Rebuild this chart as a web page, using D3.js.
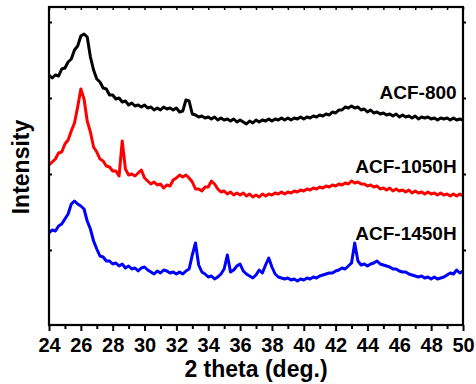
<!DOCTYPE html>
<html>
<head>
<meta charset="utf-8">
<script src="https://cdn.jsdelivr.net/npm/d3@7"></script>
<style>
  body { margin: 0; background: #fff; }
  svg { display: block; font-family: "Liberation Sans", Arial, sans-serif; }
  .tick-label { font-size: 20px; font-weight: bold; fill: #000; }
  .axis-title { font-size: 23px; font-weight: bold; fill: #000; }
  .series-label { font-size: 19px; font-weight: bold; fill: #000; }
</style>
</head>
<body>
<div id="chart"></div>
<script>
// 2 theta grid, 24 to 50 deg every 0.2 deg
const twoTheta = d3.range(0, 131).map(i => +(24 + i * 0.2).toFixed(1));

// intensity (a.u.)
const acf800 = [
  250,247,250,249,256,257,263,266,275,279,
  289,291,288,268,255,246,243,237,236,230,
  230,226,227,223,224,220,222,219,220,218,
  220,217,218,215,217,215,218,216,217,215,
  217,213,214,225,224,211,210,208,209,207,
  208,206,208,205,207,205,206,204,206,203,
  205,203,201,204,202,205,203,205,204,206,
  204,206,205,207,205,207,205,207,206,208,
  206,208,207,209,208,210,209,211,210,213,
  212,215,215,218,217,219,217,218,215,216,
  213,215,212,213,211,212,210,211,209,211,
  208,210,208,209,207,209,206,208,207,208,
  206,207,205,207,206,207,205,207,205,206,
  205
];
const acf1050H = [
  160,163,166,172,173,181,185,194,202,218,
  236,226,204,193,178,173,166,164,159,158,
  154,154,149,184,156,150,151,149,152,155,
  147,144,141,143,140,141,137,140,139,145,
  147,150,148,150,147,143,136,136,134,138,
  138,144,141,136,133,134,131,133,130,132,
  130,132,129,131,128,130,128,131,129,131,
  130,132,131,133,131,133,132,134,133,135,
  134,136,135,137,136,138,137,139,138,140,
  139,141,140,142,141,144,142,143,141,141,
  139,140,138,139,136,137,135,137,134,136,
  134,135,133,135,132,134,132,133,131,133,
  131,132,130,132,130,131,129,131,129,131,
  129
];
const acf1450H = [
  92,95,94,99,101,106,111,121,124,121,
  119,116,104,96,84,76,69,68,64,64,
  61,62,59,61,57,59,56,57,54,57,
  58,55,53,51,54,52,55,54,52,53,
  51,53,51,54,56,70,82,60,53,51,
  48,49,46,48,51,56,70,53,55,59,
  61,54,51,49,47,50,55,52,60,67,
  58,51,48,47,46,47,45,46,44,46,
  45,47,46,48,47,49,50,51,52,52,
  54,55,57,56,59,62,82,64,60,61,
  59,61,62,64,61,60,59,58,56,56,
  54,53,53,51,50,49,48,49,47,48,
  46,48,46,47,48,50,52,51,55,52,
  54
];

const seriesNames = ['ACF-800', 'ACF-1050H', 'ACF-1450H'];
const seriesColors = ['#000000', '#ff0000', '#0000ff'];
const labelLevels = [226, 152, 85];

const xMajorTicks = d3.range(24, 51, 2);
const xMinorTicks = d3.range(25, 50, 2);
const yTicks = [75, 151, 227, 303];

const W = 476, H = 384;
const margin = { top: 7, right: 13, bottom: 59, left: 49 };
const width = W - margin.left - margin.right;
const height = H - margin.top - margin.bottom;

const svg = d3.select('#chart').append('svg')
  .attr('width', W)
  .attr('height', H);

const g = svg.append('g')
  .attr('transform', `translate(${margin.left},${margin.top})`);

const x = d3.scaleLinear().domain([24, 50]).range([0, width]);
const y = d3.scaleLinear().domain([0, 318]).range([height, 0]);

// curves
const allSeries = [acf800, acf1050H, acf1450H];
const line = d3.line()
  .x((d, i) => x(twoTheta[i]))
  .y(d => y(d));

allSeries.forEach((vals, k) => {
  g.append('path')
    .datum(vals)
    .attr('fill', 'none')
    .attr('stroke', seriesColors[k])
    .attr('stroke-width', 3)
    .attr('stroke-linejoin', 'round')
    .attr('d', line);
});

// bottom axis, major + minor ticks
const xAxis = g.append('g')
  .attr('transform', `translate(0,${height})`)
  .call(d3.axisBottom(x).tickValues(xMajorTicks).tickSize(6).tickPadding(7).tickFormat(d3.format('d')));
xAxis.select('.domain').remove();
xAxis.selectAll('line').attr('stroke-width', 2);
xAxis.selectAll('text').attr('class', 'tick-label');

const xMinor = g.append('g')
  .attr('transform', `translate(0,${height})`)
  .call(d3.axisBottom(x).tickValues(xMinorTicks).tickSize(4).tickFormat(''));
xMinor.select('.domain').remove();
xMinor.selectAll('line').attr('stroke-width', 2);

// top axis, small inward ticks
const xTop = g.append('g')
  .call(d3.axisBottom(x).tickValues(xMajorTicks.concat(xMinorTicks)).tickSize(3).tickFormat(''));
xTop.select('.domain').remove();
xTop.selectAll('line').attr('stroke-width', 1.5);

// left axis, inward ticks, no labels
const yLeft = g.append('g')
  .call(d3.axisRight(y).tickValues(yTicks).tickSize(3).tickFormat(''));
yLeft.select('.domain').remove();
yLeft.selectAll('line').attr('stroke-width', 2);

// right axis, outward ticks
const yRight = g.append('g')
  .attr('transform', `translate(${width},0)`)
  .call(d3.axisRight(y).tickValues(yTicks).tickSize(3).tickFormat(''));
yRight.select('.domain').remove();
yRight.selectAll('line').attr('stroke-width', 2);

// frame
g.append('rect')
  .attr('x', 0)
  .attr('y', 0)
  .attr('width', width)
  .attr('height', height)
  .attr('fill', 'none')
  .attr('stroke', '#000')
  .attr('stroke-width', 2.2);

// series labels
seriesNames.forEach((name, k) => {
  g.append('text')
    .attr('class', 'series-label')
    .attr('x', x(49.6))
    .attr('y', y(labelLevels[k]))
    .attr('text-anchor', 'end')
    .text(name);
});

// axis titles
svg.append('text')
  .attr('class', 'axis-title')
  .attr('x', margin.left + width / 2)
  .attr('y', 377)
  .attr('text-anchor', 'middle')
  .text('2 theta (deg.)');

svg.append('text')
  .attr('class', 'axis-title')
  .attr('transform', `translate(29,${margin.top + height / 2 + 1}) rotate(-90)`)
  .attr('text-anchor', 'middle')
  .text('Intensity');
</script>
</body>
</html>
